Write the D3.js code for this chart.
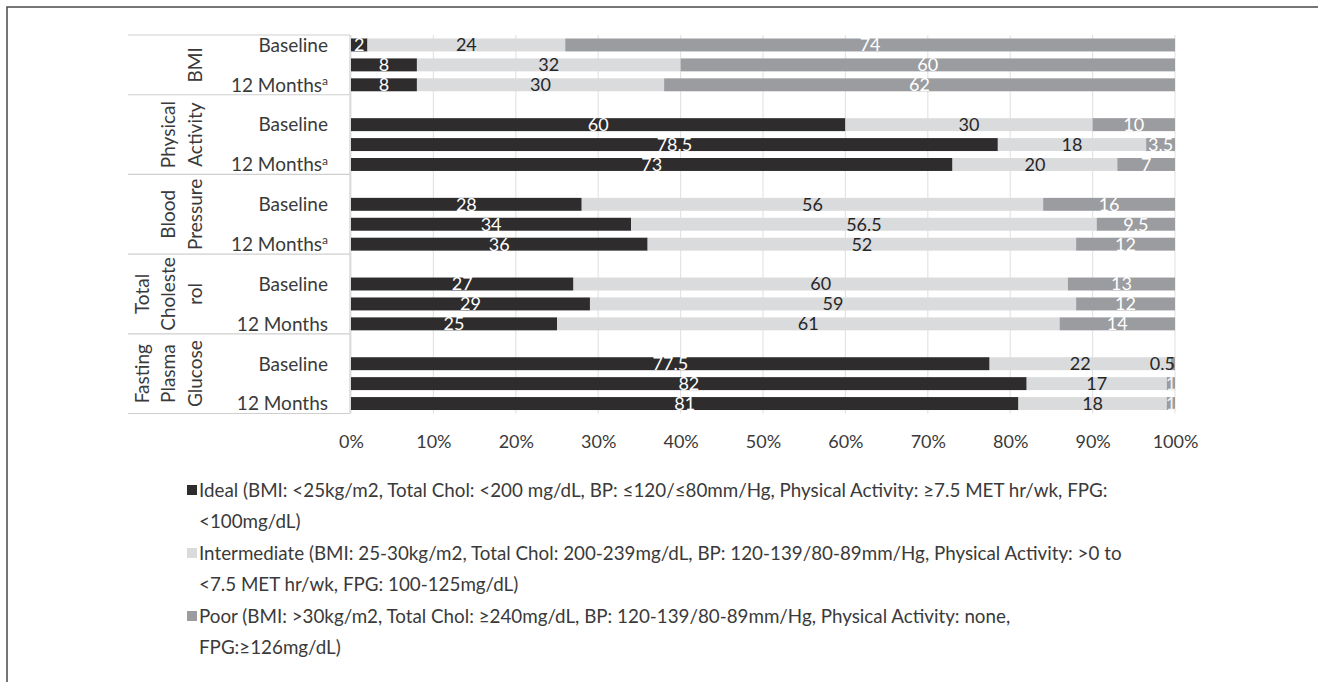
<!DOCTYPE html>
<html>
<head>
<meta charset="utf-8">
<script src="https://cdn.jsdelivr.net/npm/d3@7"></script>
<style>
  html, body { margin: 0; padding: 0; background: #ffffff; }
  svg { display: block; font-family: Lato, "Open Sans", sans-serif; }
</style>
</head>
<body>
<svg id="chart" width="1318" height="682"></svg>
<script>
// Cardiovascular health metrics: share of participants (%) per level
const groupNames = ["BMI", "Physical Activity", "Blood Pressure", "Total Cholesterol", "Fasting Plasma Glucose"];
const groupLines = [["BMI"], ["Physical", "Activity"], ["Blood", "Pressure"], ["Total", "Choleste", "rol"], ["Fasting", "Plasma", "Glucose"]];
const timeLabels = [
  ["Baseline", "", "12 Months", "a"],
  ["Baseline", "", "12 Months", "a"],
  ["Baseline", "", "12 Months", "a"],
  ["Baseline", "", "12 Months", ""],
  ["Baseline", "", "12 Months", ""]
];
const ideal        = [2, 8, 8,   60, 78.5, 73,  28, 34, 36,    27, 29, 25,  77.5, 82, 81];
const intermediate = [24, 32, 30, 30, 18, 20,   56, 56.5, 52,  60, 59, 61,  22, 17, 18];
const poor         = [74, 60, 62, 10, 3.5, 7,   16, 9.5, 12,   13, 12, 14,  0.5, 1, 1];
const xTicks = [0, 10, 20, 30, 40, 50, 60, 70, 80, 90, 100];
const seriesNames = ["Ideal", "Intermediate", "Poor"];
const legendLines = [
  ["Ideal (BMI: <25kg/m2, Total Chol: <200 mg/dL, BP: \u2264120/\u226480mm/Hg, Physical Activity: \u22657.5 MET hr/wk, FPG:", "<100mg/dL)"],
  ["Intermediate (BMI: 25-30kg/m2, Total Chol: 200-239mg/dL, BP: 120-139/80-89mm/Hg, Physical Activity: >0 to", "<7.5 MET hr/wk, FPG: 100-125mg/dL)"],
  ["Poor (BMI: >30kg/m2, Total Chol: \u2265240mg/dL, BP: 120-139/80-89mm/Hg, Physical Activity: none,", "FPG:\u2265126mg/dL)"]
];

const colors = { Ideal: "#2f2c2d", Intermediate: "#dadbdd", Poor: "#9b9c9f" };
const labelColors = { Ideal: "#ffffff", Intermediate: "#262626", Poor: "#ffffff" };
const textColor = "#3a3a3a";

// Build rows: each group after the first starts with an empty spacer slot
const rows = [];
const slots = [];
groupNames.forEach((g, gi) => {
  if (gi > 0) slots.push(`gap-${gi}`);
  for (let k = 0; k < 3; k++) {
    const i = gi * 3 + k;
    const key = `${gi}-${k}`;
    slots.push(key);
    rows.push({
      key, group: gi, k,
      Ideal: ideal[i], Intermediate: intermediate[i], Poor: poor[i]
    });
  }
});

const svg = d3.select("#chart");
const plotLeft = 351, plotRight = 1175, plotTop = 35, plotBottom = 413.5;

const x = d3.scaleLinear().domain([0, 100]).range([plotLeft, plotRight]);
const y = d3.scaleBand().domain(slots).range([plotTop, plotBottom])
  .paddingInner(0.35).paddingOuter(0.175);

// Outer figure frame (top and left edges)
svg.append("path")
  .attr("d", `M7,682 V7 H1318`)
  .attr("fill", "none").attr("stroke", "#4a4a4a").attr("stroke-width", 1.5);

// Vertical gridlines
svg.append("g").selectAll("line").data(xTicks).join("line")
  .attr("x1", d => x(d)).attr("x2", d => x(d))
  .attr("y1", plotTop).attr("y2", plotBottom)
  .attr("stroke", "#e4e4e4").attr("stroke-width", 1.2);

// Stacked bars
const stack = d3.stack().keys(seriesNames);
const stacked = stack(rows);

const layers = svg.append("g").selectAll("g").data(stacked).join("g")
  .attr("fill", d => colors[d.key]);

layers.selectAll("rect").data(d => d.map(s => ({ s, key: d.key }))).join("rect")
  .attr("x", d => x(d.s[0]))
  .attr("width", d => x(d.s[1]) - x(d.s[0]))
  .attr("y", d => y(d.s.data.key))
  .attr("height", y.bandwidth());

// Value labels centred in each segment
const labelSize = 18;
const labels = svg.append("g").attr("font-size", labelSize).attr("text-anchor", "middle");
stacked.forEach(layer => {
  layer.forEach(s => {
    const v = s.data[layer.key];
    const w = x(s[1]) - x(s[0]);
    let cx = (x(s[0]) + x(s[1])) / 2;
    let anchor = "middle";
    let fill = labelColors[layer.key];
    if (w < 6) {
      // very thin segment: keep the label inside the plot and make it readable
      cx = x(s[1]);
      anchor = "end";
      fill = "#262626";
    }
    if (w < 9 && w >= 6) fill = "#f2f2f2";
    labels.append("text")
      .attr("x", cx)
      .attr("y", y(s.data.key) + y.bandwidth() / 2)
      .attr("dy", "0.36em")
      .attr("text-anchor", anchor)
      .attr("fill", fill)
      .text(String(v));
  });
});

// Category table on the left
const axisG = svg.append("g");
axisG.append("line")
  .attr("x1", plotLeft - 1).attr("x2", plotLeft - 1)
  .attr("y1", plotTop).attr("y2", plotBottom)
  .attr("stroke", "#cfcfcf").attr("stroke-width", 1.2);

// group boundaries
const step = y.step();
const bounds = [plotTop];
groupNames.forEach((g, gi) => {
  const lastKey = `${gi}-2`;
  bounds.push(y(lastKey) - step * 0.175 + step);
});
axisG.selectAll("line.sep").data(bounds).join("line").attr("class", "sep")
  .attr("x1", 128).attr("x2", plotLeft - 1)
  .attr("y1", d => d).attr("y2", d => d)
  .attr("stroke", "#cfcfcf").attr("stroke-width", 1.2);

// time labels
const catSize = 19;
rows.forEach(r => {
  const lab = timeLabels[r.group][r.k];
  if (!lab) return;
  const t = axisG.append("text")
    .attr("x", 328)
    .attr("y", y(r.key) + y.bandwidth() / 2)
    .attr("dy", "0.36em")
    .attr("text-anchor", "end")
    .attr("font-size", catSize)
    .attr("fill", textColor)
    .text(lab);
  if (r.k === 2 && timeLabels[r.group][3]) {
    t.append("tspan").attr("font-size", 12).attr("dy", "-0.55em").text(timeLabels[r.group][3]);
  }
});

// rotated group names
groupLines.forEach((lines, gi) => {
  const yc = (bounds[gi] + bounds[gi + 1]) / 2;
  const n = lines.length;
  lines.forEach((ln, li) => {
    const xc = 195 - (n - 1 - li) * 26.5;
    axisG.append("text")
      .attr("transform", `translate(${xc},${yc}) rotate(-90)`)
      .attr("text-anchor", "middle")
      .attr("dy", "0.36em")
      .attr("font-size", catSize)
      .attr("fill", textColor)
      .text(ln);
  });
});

// Bottom percentage axis
const xAxis = d3.axisBottom(x).tickValues(xTicks).tickFormat(d => d + "%").tickSize(0).tickPadding(0);
const xg = svg.append("g").attr("transform", `translate(0, ${plotBottom})`).call(xAxis);
xg.select(".domain").remove();
xg.selectAll("text")
  .attr("font-size", 18).attr("font-family", "Lato, 'Open Sans', sans-serif")
  .attr("fill", textColor).attr("dy", 0).attr("y", 34);

// Legend
const legendRows = [490, 553, 616];
const lineGap = 31;
const legend = svg.append("g");
seriesNames.forEach((name, i) => {
  const yc = legendRows[i];
  legend.append("rect")
    .attr("x", 187).attr("y", yc - 5).attr("width", 10).attr("height", 10)
    .attr("fill", colors[name]);
  legendLines[i].forEach((ln, li) => {
    legend.append("text")
      .attr("x", 199).attr("y", yc + li * lineGap)
      .attr("dy", "0.36em")
      .attr("font-size", 18.8)
      .attr("fill", textColor)
      .text(ln);
  });
});
</script>
</body>
</html>
